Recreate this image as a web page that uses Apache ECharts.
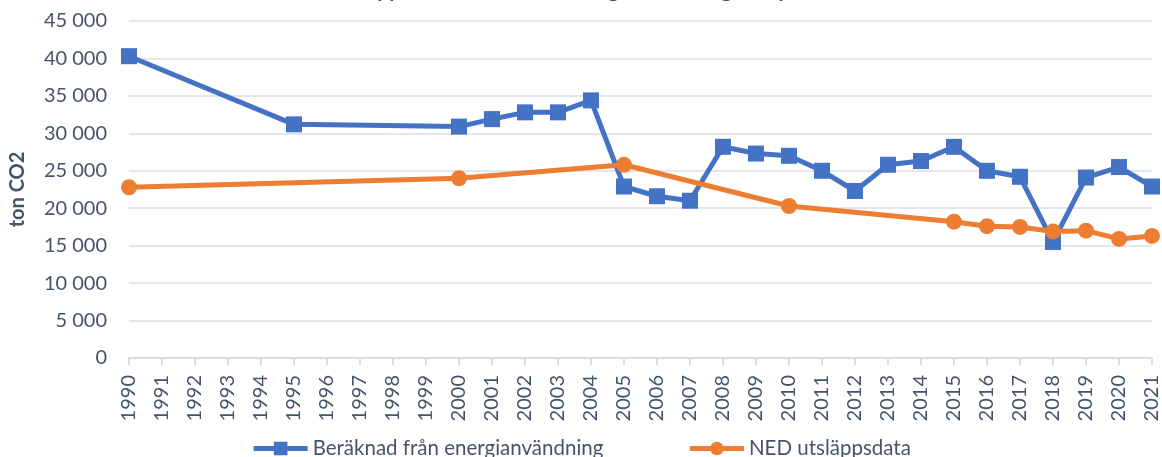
<!DOCTYPE html>
<html>
<head>
<meta charset="utf-8">
<script src="https://cdn.jsdelivr.net/npm/echarts@6/dist/echarts.min.js"></script>
<style>
    html, body { margin: 0; padding: 0; background: #fff; }
    #chart { width: 1162px; height: 457px; }
</style>
</head>
<body>
<div id="chart"></div>
<script>
// årtal på x-axeln
var years = ['1990', '1991', '1992', '1993', '1994', '1995', '1996', '1997', '1998', '1999',
    '2000', '2001', '2002', '2003', '2004', '2005', '2006', '2007', '2008', '2009',
    '2010', '2011', '2012', '2013', '2014', '2015', '2016', '2017', '2018', '2019',
    '2020', '2021'];

// Beräknad från energianvändning (ton CO2), null = saknas
var energiData = [40300, null, null, null, null, 31200, null, null, null, null,
    30900, 31900, 32800, 32800, 34400, 22900, 21600, 21000, 28200, 27300,
    27000, 25000, 22300, 25800, 26300, 28200, 25000, 24200, 15500, 24100,
    25500, 22900];

// NED utsläppsdata (ton CO2)
var nedData = [22800, null, null, null, null, null, null, null, null, null,
    24000, null, null, null, null, 25800, null, null, null, null,
    20300, null, null, null, null, 18200, 17600, 17500, 16900, 17000,
    15900, 16300];

var yTicks = [0, 5000, 10000, 15000, 20000, 25000, 30000, 35000, 40000, 45000];

var textColor = '#44546a';
var fontName = 'Lato';

var chart = echarts.init(document.getElementById('chart'));

var option = {
    backgroundColor: '#ffffff',
    textStyle: { fontFamily: fontName, color: textColor },
    title: {
        // titeln är avskuren upptill i originalet
        text: 'Utsläpp av koldioxid från energianvändning, ton per år',
        left: 'center',
        top: -25,
        textStyle: {
            fontFamily: fontName,
            fontSize: 21,
            fontWeight: 'bold',
            color: textColor
        }
    },
    legend: {
        bottom: -7,
        left: 'center',
        itemWidth: 54,
        itemHeight: 17,
        itemGap: 84,
        lineStyle: { width: 5 },
        textStyle: { fontSize: 20.5, color: textColor, fontFamily: fontName },
        data: ['Beräknad från energianvändning', 'NED utsläppsdata']
    },
    grid: {
        left: 128,
        right: 9,
        top: 21,
        bottom: 99
    },
    xAxis: {
        type: 'category',
        boundaryGap: false,
        data: years,
        axisLine: { lineStyle: { color: '#d9dde3', width: 2 } },
        axisTick: { show: true, alignWithLabel: true, length: 7, lineStyle: { color: '#d9dde3', width: 2 } },
        axisLabel: {
            rotate: 90,
            interval: 0,
            fontSize: 20,
            margin: 17,
            color: textColor,
            fontFamily: fontName
        }
    },
    yAxis: {
        type: 'value',
        min: yTicks[0],
        max: yTicks[yTicks.length - 1],
        interval: yTicks[1] - yTicks[0],
        name: 'ton CO2',
        nameLocation: 'middle',
        nameGap: 101,
        nameRotate: 90,
        nameTextStyle: { fontSize: 20, fontWeight: 'bold', color: textColor, fontFamily: fontName },
        axisLine: { show: false },
        axisTick: { show: false },
        axisLabel: {
            fontSize: 20,
            margin: 22,
            color: textColor,
            fontFamily: fontName,
            formatter: function (v) {
                return String(v).replace(/\B(?=(\d{3})+(?!\d))/g, ' ');
            }
        },
        splitLine: { lineStyle: { color: '#e3e6eb', width: 2 } }
    },
    series: [
        {
            name: 'Beräknad från energianvändning',
            type: 'line',
            data: energiData,
            connectNulls: true,
            symbol: 'rect',
            symbolSize: 16,
            color: '#4472c4',
            lineStyle: { width: 5 },
            itemStyle: { color: '#4472c4' },
            z: 3
        },
        {
            name: 'NED utsläppsdata',
            type: 'line',
            data: nedData,
            connectNulls: true,
            symbol: 'circle',
            symbolSize: 16,
            color: '#ed7d31',
            lineStyle: { width: 5 },
            itemStyle: { color: '#ed7d31' },
            z: 4
        }
    ]
};

chart.setOption(option);
</script>
</body>
</html>
